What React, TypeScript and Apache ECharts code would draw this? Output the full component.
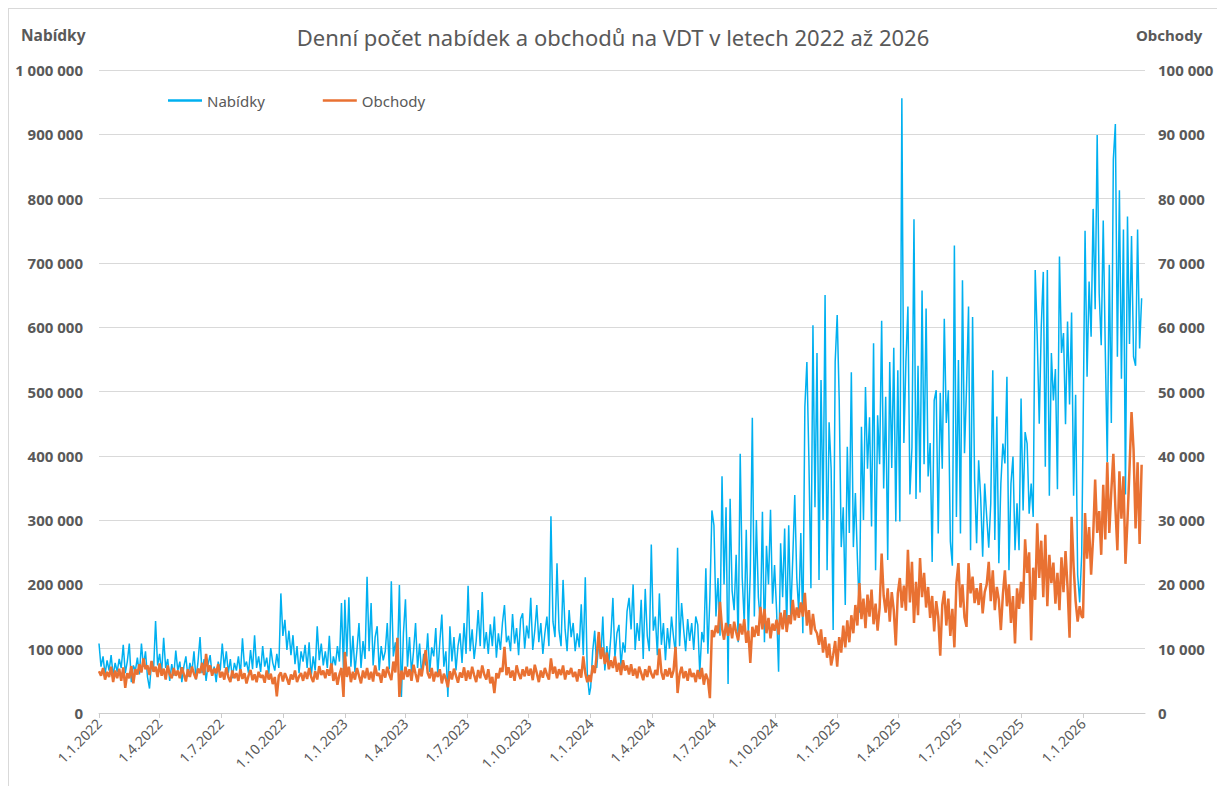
import React, { useEffect, useRef } from "react";
import * as echarts from "echarts";

const TITLE = "Denní počet nabídek a obchodů na VDT v letech 2022 až 2026";
const NAME_NABIDKY = "Nabídky";
const NAME_OBCHODY = "Obchody";
const STEP_DAYS = 3; // values below are sampled every 3 days from 1 January of each year
const X_TICK_LABELS = [
  "1.1.2022", "1.4.2022", "1.7.2022", "1.10.2022",
  "1.1.2023", "1.4.2023", "1.7.2023", "1.10.2023",
  "1.1.2024", "1.4.2024", "1.7.2024", "1.10.2024",
  "1.1.2025", "1.4.2025", "1.7.2025", "1.10.2025",
  "1.1.2026",
];
const X_START = "1.1.2022";
const X_END = "3.4.2026";

// Nabídky, thousands
const nabidky2022 = [
  108, 72, 88, 60, 82, 66, 90, 58, 78, 64, 84,
  70, 106, 62, 80, 108, 48, 74, 66, 86,
  60, 108, 72, 96, 56, 38, 80, 66, 143, 74,
  92, 62, 117, 70, 84, 50, 76, 58, 97, 66,
  80, 48, 72, 88, 56, 78, 64, 96, 52, 80, 118,
  62, 84, 50, 76, 90, 58, 72, 48, 80, 66,
  108, 70, 96, 62, 84, 54, 78, 66, 88, 60,
  116, 72, 80, 62, 98, 68, 121, 70, 88, 64,
  104, 72, 86, 60, 101, 78, 66, 92, 70, 186,
  120, 145, 98, 128, 90, 121, 76, 104, 62, 96, 80,
  106, 70, 110, 56, 88, 66, 135, 82, 108, 74,
  96, 70, 120, 62, 88, 74, 104, 80, 171, 66,
];
const nabidky2023 = [
  176, 88, 180, 72, 120, 64, 98, 140, 70, 112, 84,
  212, 96, 171, 74, 118, 135, 66, 104, 82,
  96, 140, 68, 205, 88, 110, 76, 199, 25, 124,
  177, 72, 118, 62, 96, 140, 70, 108, 58, 92,
  74, 124, 64, 102, 88, 132, 60, 110, 153, 72, 96,
  25, 135, 80, 118, 66, 104, 124, 78, 140, 92,
  198, 96, 130, 84, 112, 160, 104, 188, 100, 126,
  92, 138, 104, 150, 86, 124, 98, 140, 168, 110,
  120, 96, 154, 108, 132, 90, 146, 155, 100, 136,
  116, 179, 98, 128, 168, 110, 140, 92, 124, 150, 104,
  306, 142, 118, 233, 128, 104, 207, 130, 96, 160,
  118, 140, 96, 124, 102, 169, 90, 211, 60, 28,
];
const nabidky2024 = [
  40, 96, 128, 70, 112, 84, 150, 66, 104, 78, 120,
  179, 86, 124, 137, 72, 110, 94, 158, 179,
  130, 200, 98, 140, 112, 176, 84, 193, 120, 96, 262,
  128, 150, 90, 186, 106, 140, 82, 132, 100, 150,
  118, 92, 257, 104, 171, 130, 96, 146, 112, 140,
  98, 150, 137, 62, 126, 110, 225, 92, 180, 315,
  292, 150, 210, 120, 368, 200, 320, 45, 333, 190,
  160, 246, 110, 403, 210, 140, 285, 120, 220, 459, 150,
  300, 180, 140, 313, 110, 260, 200, 316, 170, 230,
  160, 64, 264, 180, 287, 130, 292, 150, 240, 339,
  210, 156, 280, 124, 476, 546, 393, 194, 603, 320,
  560, 207, 518, 300, 650, 222, 452, 380, 129, 546,
];
const nabidky2025 = [
  619, 487, 258, 320, 168, 414, 280, 530, 258, 342, 240,
  156, 445, 300, 507, 380, 460, 290, 575, 222,
  463, 387, 610, 349, 492, 238, 546, 381, 568, 298,
  533, 298, 956, 420, 546, 632, 340, 413, 768, 333,
  540, 343, 657, 387, 629, 368, 420, 235, 486, 502, 279,
  498, 380, 613, 451, 502, 267, 229, 727, 305, 549,
  279, 673, 404, 505, 632, 253, 616, 362, 264, 393,
  336, 243, 357, 305, 257, 326, 533, 269, 461, 233,
  357, 419, 388, 523, 222, 357, 399, 253, 326, 253,
  489, 315, 437, 419, 310, 357, 305, 689, 585, 450, 601,
  686, 383, 689, 338, 560, 486, 535, 348, 710, 560,
  591, 449, 609, 480, 623, 338, 495, 215, 172, 246,
];
const nabidky2026 = [
  431, 750, 523, 671, 585, 784, 628, 899, 652, 572,
  766, 567, 390, 697, 451, 861, 916, 554, 813, 520,
  752, 340, 772, 574, 742, 554, 540, 752, 567, 645,
];

// Obchody, thousands
const obchody2022 = [
  6.5, 5.8, 7.0, 5.2, 6.4, 5.6, 7.2, 4.8, 6.6, 5.4, 6.9,
  5.0, 7.1, 3.9, 6.2, 5.4, 7.3, 4.6, 6.8, 6.0,
  7.6, 6.3, 8.5, 6.8, 7.4, 5.9, 8.1, 6.4, 7.2, 5.6,
  7.7, 5.8, 6.9, 5.2, 7.4, 6.0, 5.4, 7.0, 5.8, 6.6,
  5.4, 7.1, 6.0, 4.9, 6.8, 5.6, 7.2, 6.1, 5.3, 6.9, 6.2,
  7.8, 5.9, 9.2, 6.4, 7.4, 5.8, 6.9, 6.2, 7.6, 5.5,
  6.4, 5.2, 7.1, 5.6, 4.8, 6.6, 5.4, 6.2, 5.0, 6.8,
  5.3, 6.2, 4.6, 5.8, 6.7, 5.1, 6.0, 4.8, 6.4, 5.5,
  5.9, 4.7, 6.6, 5.2, 6.1, 4.5, 5.6, 2.6, 5.8, 6.3,
  4.9, 6.2, 5.4, 4.4, 6.0, 5.2, 6.6, 4.8, 5.7, 6.2, 5.0,
  6.4, 5.3, 7.0, 5.6, 4.8, 6.5, 5.2, 7.3, 5.9, 6.6,
  5.4, 6.8, 5.8, 7.7, 5.0, 6.3, 4.4, 6.0, 7.0, 2.5,
];
const obchody2023 = [
  9.5, 5.6, 7.2, 4.8, 6.4, 5.2, 7.0, 5.8, 4.6, 6.6, 5.4,
  7.0, 5.2, 6.4, 4.9, 7.4, 5.8, 6.2, 4.7, 6.8,
  5.5, 7.2, 6.0, 5.1, 8.0, 6.3, 11.7, 2.5, 6.6, 5.2,
  7.2, 5.6, 6.8, 5.0, 7.5, 6.1, 4.8, 6.9, 5.7, 7.8,
  9.8, 6.2, 5.4, 7.0, 4.9, 6.4, 5.6, 6.8, 4.6, 6.1, 5.3,
  4.0, 6.5, 5.2, 6.9, 5.8, 4.7, 6.3, 5.5, 7.1, 5.0,
  6.6, 5.3, 7.2, 5.9, 4.8, 6.7, 5.4, 7.4, 6.0, 5.2,
  6.8, 4.6, 5.6, 3.1, 6.2, 5.4, 7.0, 6.4, 10.3, 5.9,
  7.1, 5.5, 6.6, 5.0, 7.4, 6.1, 5.3, 6.8, 5.7, 7.2,
  5.8, 6.9, 5.1, 7.5, 6.2, 4.8, 6.6, 5.5, 7.0, 6.0, 5.2,
  8.5, 6.1, 7.2, 5.4, 6.8, 5.9, 7.4, 5.2, 6.6, 6.0,
  7.0, 5.6, 6.4, 4.9, 6.8, 5.5, 8.8, 6.2, 4.8, 5.9,
];
const obchody2024 = [
  4.8, 7.4, 6.2, 9.0, 12.6, 8.4, 10.2, 7.6, 9.4, 6.8, 8.2,
  7.0, 8.8, 6.4, 7.8, 5.9, 8.2, 6.6, 7.4, 6.0,
  7.6, 5.8, 6.9, 5.4, 7.2, 6.2, 5.1, 6.8, 5.6, 7.3, 6.1,
  5.4, 6.7, 5.9, 10.0, 6.3, 5.2, 6.8, 5.7, 7.0, 5.5,
  6.6, 10.3, 3.1, 6.0, 7.2, 5.4, 6.5, 5.0, 6.9, 5.6,
  6.2, 4.8, 6.7, 5.3, 7.0, 4.4, 6.1, 5.2, 2.3, 12.9,
  11.8, 13.6, 12.4, 17.3, 13.2, 11.4, 14.0, 12.0, 13.8, 11.6,
  14.2, 12.6, 11.3, 13.9, 12.2, 14.6, 10.9, 12.8, 7.8, 13.4, 11.8,
  13.6, 12.0, 16.5, 13.0, 16.2, 12.4, 14.8, 11.6, 13.9, 12.8,
  14.5, 12.2, 15.6, 13.0, 16.0, 12.6, 15.2, 13.8, 17.6, 14.4,
  16.4, 14.8, 17.2, 15.0, 18.7, 13.6, 16.0, 12.2, 15.4, 13.0,
  12.4, 10.6, 13.0, 9.4, 11.8, 8.6, 10.8, 7.4, 9.0, 11.2,
];
const obchody2025 = [
  7.2, 11.8, 9.4, 13.6, 10.2, 14.4, 11.0, 15.2, 12.4, 16.8, 13.6,
  20.2, 14.6, 17.8, 13.2, 18.4, 15.0, 19.2, 13.8, 17.0,
  12.8, 16.4, 24.8, 18.2, 15.6, 19.4, 14.2, 18.8, 16.0, 10.5,
  18.6, 21.0, 16.4, 19.8, 15.9, 25.4, 17.2, 23.5, 14.0, 20.4,
  15.2, 24.1, 18.0, 21.8, 16.4, 19.6, 14.8, 18.2, 12.7, 17.4, 15.0,
  8.9, 16.8, 19.0, 13.6, 17.8, 12.0, 16.2, 10.2, 20.2, 23.3,
  16.4, 20.0, 14.9, 13.4, 23.3, 18.6, 21.2, 17.1, 19.4, 16.8,
  20.2, 15.5, 18.8, 20.0, 23.5, 17.4, 22.2, 16.0, 19.6, 17.6,
  12.9, 18.4, 22.2, 16.6, 20.0, 14.0, 18.2, 10.8, 19.4, 16.2,
  20.4, 17.0, 27.0, 21.8, 25.0, 11.3, 22.6, 17.6, 29.5, 21.0, 26.8,
  18.0, 27.7, 16.6, 24.6, 20.2, 23.4, 17.0, 21.8, 16.0, 24.2,
  18.8, 25.2, 19.6, 11.7, 30.5, 22.8, 17.4, 14.2, 16.6, 15.0,
];
const obchody2026 = [
  14.8, 31.1, 24.0, 28.9, 21.5, 27.4, 36.3, 28.0, 31.4, 24.6,
  35.5, 27.0, 39.0, 28.0, 34.5, 40.3, 32.0, 25.3, 37.6, 30.2,
  36.8, 23.2, 30.0, 38.0, 46.8, 41.0, 28.7, 39.0, 26.3, 38.6,
];

const NABIDKY_YEARS: [number, number[]][] = [
  [2022, nabidky2022], [2023, nabidky2023], [2024, nabidky2024], [2025, nabidky2025], [2026, nabidky2026],
];
const OBCHODY_YEARS: [number, number[]][] = [
  [2022, obchody2022], [2023, obchody2023], [2024, obchody2024], [2025, obchody2025], [2026, obchody2026],
];

const FONT = '"Noto Sans", "DejaVu Sans", sans-serif';
const GRAY = "#595959";
const BLUE = "#00B0F0";
const ORANGE = "#E97132";

function parseCz(s: string): number {
  const [d, m, y] = s.split(".").map(Number);
  return new Date(y, m - 1, d).getTime();
}
function fmtCz(ts: number): string {
  const d = new Date(ts);
  return `${d.getDate()}.${d.getMonth() + 1}.${d.getFullYear()}`;
}
function fmtThousands(v: number): string {
  return String(Math.round(v)).replace(/\B(?=(\d{3})+(?!\d))/g, " ");
}
function buildPairs(years: [number, number[]][], scale: number): [number, number][] {
  const out: [number, number][] = [];
  years.forEach(([year, vals]) => {
    vals.forEach((v, i) => {
      out.push([new Date(year, 0, 1 + STEP_DAYS * i).getTime(), v * scale]);
    });
  });
  return out.sort((a, b) => a[0] - b[0]);
}

export default function App() {
  const ref = useRef<HTMLDivElement>(null);

  useEffect(() => {
    if (!ref.current) return;
    const chart = echarts.init(ref.current, undefined, { renderer: "svg" });
    const ticks = X_TICK_LABELS.map(parseCz);
    const option: any = {
      animation: false,
      backgroundColor: "#ffffff",
      textStyle: { fontFamily: FONT },
      title: {
        text: TITLE,
        left: "center",
        top: 17,
        padding: 0,
        textStyle: { fontFamily: FONT, fontSize: 22, fontWeight: "normal", color: GRAY },
      },
      legend: {
        left: 159,
        top: 84,
        padding: 0,
        icon: "rect",
        itemWidth: 34,
        itemHeight: 2.5,
        itemGap: 58,
        textStyle: { fontFamily: FONT, fontSize: 15, color: GRAY },
        data: [NAME_NABIDKY, NAME_OBCHODY],
      },
      graphic: [
        {
          type: "text",
          left: 12,
          top: 18,
          style: { text: NAME_NABIDKY, font: `bold 15.5px ${FONT}`, fill: GRAY },
        },
        {
          type: "text",
          left: 1127,
          top: 18,
          style: { text: NAME_OBCHODY, font: `bold 15px ${FONT}`, fill: GRAY },
        },
      ],
      grid: { left: 90, right: 72, top: 61, bottom: 73, containLabel: false, outerBoundsMode: "none" },
      xAxis: {
        type: "value",
        min: parseCz(X_START),
        max: parseCz(X_END),
        scale: true,
        splitLine: { show: false },
        axisLine: { show: true, onZero: false, lineStyle: { color: "#CCCCCC", width: 1 } },
        axisTick: { show: true, customValues: ticks, length: 5, lineStyle: { color: "#CCCCCC" } },
        axisLabel: {
          customValues: ticks,
          rotate: 45,
          margin: 8,
          color: GRAY,
          fontSize: 14,
          fontFamily: FONT,
          formatter: (v: number) => fmtCz(v),
        },
      },
      yAxis: [
        {
          type: "value",
          min: 0,
          max: 1000000,
          interval: 100000,
          axisLine: { show: false },
          axisTick: { show: false },
          splitLine: { show: true, lineStyle: { color: "#D9D9D9", width: 1 } },
          axisLabel: {
            margin: 16,
            color: GRAY,
            fontSize: 15,
            fontWeight: "bold",
            fontFamily: FONT,
            formatter: (v: number) => fmtThousands(v),
          },
        },
        {
          type: "value",
          min: 0,
          max: 100000,
          interval: 10000,
          axisLine: { show: false },
          axisTick: { show: false },
          splitLine: { show: false },
          axisLabel: {
            margin: 13,
            color: GRAY,
            fontSize: 15,
            fontWeight: "bold",
            fontFamily: FONT,
            formatter: (v: number) => fmtThousands(v),
          },
        },
      ],
      series: [
        {
          name: NAME_NABIDKY,
          type: "line",
          yAxisIndex: 0,
          data: buildPairs(NABIDKY_YEARS, 1000),
          symbol: "none",
          showSymbol: false,
          silent: true,
          z: 2,
          lineStyle: { color: BLUE, width: 1.5 },
          itemStyle: { color: BLUE },
        },
        {
          name: NAME_OBCHODY,
          type: "line",
          yAxisIndex: 1,
          data: buildPairs(OBCHODY_YEARS, 1000),
          symbol: "none",
          showSymbol: false,
          silent: true,
          z: 3,
          lineStyle: { color: ORANGE, width: 2.5 },
          itemStyle: { color: ORANGE },
        },
      ],
    };
    chart.setOption(option);
    return () => chart.dispose();
  }, []);

  return (
    <div
      style={{
        position: "absolute",
        left: 8,
        top: 8,
        width: 1209,
        height: 778,
        boxSizing: "border-box",
        borderTop: "1px solid #D9D9D9",
        borderLeft: "1px solid #D9D9D9",
        background: "#ffffff",
      }}
    >
      <div ref={ref} style={{ width: 1208, height: 777 }} />
    </div>
  );
}
